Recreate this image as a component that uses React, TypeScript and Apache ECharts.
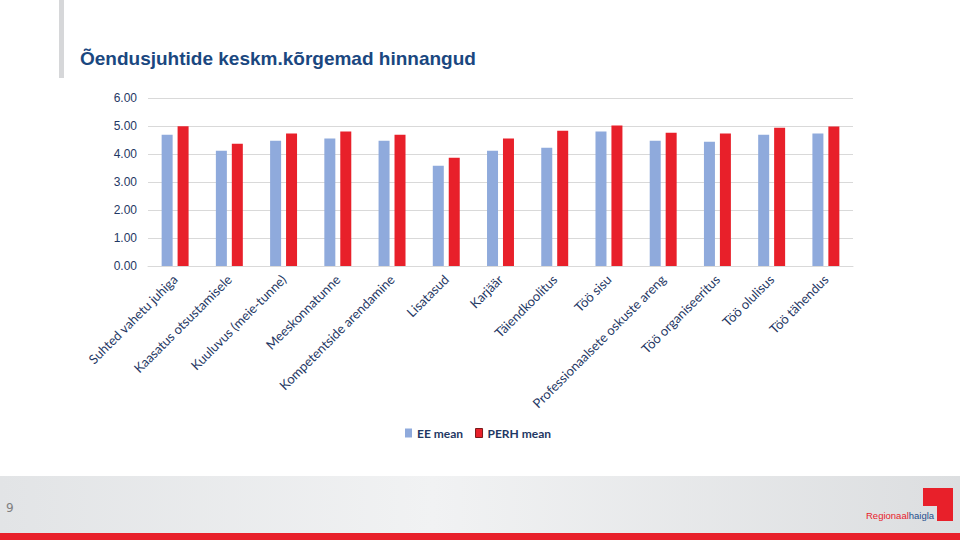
import { useEffect, useRef } from 'react';
import * as echarts from 'echarts';

// kategooriad ja keskmised hinnangud
const categories = [
  'Suhted vahetu juhiga',
  'Kaasatus otsustamisele',
  'Kuuluvus (meie-tunne)',
  'Meeskonnatunne',
  'Kompetentside arendamine',
  'Lisatasud',
  'Karjäär',
  'Täiendkoolitus',
  'Töö sisu',
  'Professionaalsete oskuste areng',
  'Töö organiseeritus',
  'Töö olulisus',
  'Töö tähendus'
];

const eeMean = [4.69, 4.12, 4.47, 4.55, 4.47, 3.58, 4.12, 4.22, 4.8, 4.47, 4.44, 4.69, 4.73];
const perhMean = [4.99, 4.37, 4.73, 4.8, 4.69, 3.87, 4.55, 4.83, 5.02, 4.76, 4.73, 4.94, 4.98];

const yTicks = { min: 0, max: 6, interval: 1 };

const NAVY = '#1f3864';

export default function App() {
  const chartRef = useRef<HTMLDivElement>(null);

  useEffect(() => {
    if (!chartRef.current) return;
    const chart = echarts.init(chartRef.current, null, { renderer: 'svg' });

    const option: echarts.EChartsOption = {
      animation: false,
      backgroundColor: '#ffffff',
      grid: { left: 148, right: 107, top: 98, bottom: 274, containLabel: false },
      xAxis: {
        type: 'category',
        data: categories,
        axisLine: { lineStyle: { color: '#d9d9d9' } },
        axisTick: { show: false },
        axisLabel: {
          rotate: 45,
          interval: 0,
          margin: 11,
          color: NAVY,
          fontFamily: 'Lato',
          fontSize: 13
        }
      },
      yAxis: {
        type: 'value',
        min: yTicks.min,
        max: yTicks.max,
        interval: yTicks.interval,
        axisLine: { show: false },
        axisTick: { show: false },
        splitLine: { lineStyle: { color: '#d9d9d9' } },
        axisLabel: {
          margin: 11,
          color: NAVY,
          fontFamily: 'Liberation Sans',
          fontSize: 12,
          formatter: (v: number) => v.toFixed(2)
        }
      },
      legend: {
        top: 422,
        left: 400,
        itemWidth: 7,
        itemHeight: 9,
        itemGap: 12,
        textStyle: { color: NAVY, fontFamily: 'Lato', fontSize: 12, fontWeight: 'bold' },
        data: [
          { name: 'EE mean', icon: 'rect' },
          { name: 'PERH mean', icon: 'rect', itemStyle: { borderColor: '#7a1a1a', borderWidth: 1 } }
        ]
      },
      series: [
        {
          name: 'EE mean',
          type: 'bar',
          data: eeMean,
          barWidth: 11,
          barGap: '45%',
          itemStyle: { color: '#8faadc' }
        },
        {
          name: 'PERH mean',
          type: 'bar',
          data: perhMean,
          barWidth: 11,
          itemStyle: { color: '#e8202a' }
        }
      ],
      graphic: [
        { type: 'rect', shape: { x: 59, y: 0, width: 5, height: 78 }, style: { fill: '#d6d7d9' } },
        {
          type: 'text',
          x: 80,
          y: 58,
          style: {
            text: 'Õendusjuhtide keskm.kõrgemad hinnangud',
            fill: '#1a4780',
            font: 'bold 19px "Liberation Sans", Arial, sans-serif',
            verticalAlign: 'middle'
          }
        },
        {
          type: 'rect',
          shape: { x: 0, y: 476, width: 960, height: 57 },
          style: {
            fill: new echarts.graphic.LinearGradient(0, 0, 1, 0, [
              { offset: 0, color: '#e2e4e6' },
              { offset: 0.45, color: '#f1f2f3' },
              { offset: 1, color: '#dcdee0' }
            ])
          }
        },
        { type: 'rect', shape: { x: 0, y: 533, width: 960, height: 7 }, style: { fill: '#e8202a' } },
        {
          type: 'text',
          x: 6,
          y: 508,
          style: { text: '9', fill: '#808080', font: '12px "DejaVu Sans", sans-serif', verticalAlign: 'middle' }
        },
        // logo
        { type: 'rect', shape: { x: 923, y: 488, width: 30, height: 18 }, style: { fill: '#e8202a' } },
        { type: 'rect', shape: { x: 937, y: 488, width: 16, height: 33 }, style: { fill: '#e8202a' } },
        {
          type: 'text',
          x: 866,
          y: 515,
          style: {
            text: '{r|Regionaal}{b|haigla}',
            verticalAlign: 'middle',
            rich: {
              r: { fill: '#e8202a', font: '9.5px "Liberation Sans Narrow", "Liberation Sans", sans-serif' },
              b: { fill: '#1f4e8c', font: '9.5px "Liberation Sans Narrow", "Liberation Sans", sans-serif' }
            }
          }
        }
      ]
    };

    chart.setOption(option);
    return () => {
      chart.dispose();
    };
  }, []);

  return (
    <div
      ref={chartRef}
      style={{ position: 'fixed', left: 0, top: 0, width: '960px', height: '540px' }}
    />
  );
}
